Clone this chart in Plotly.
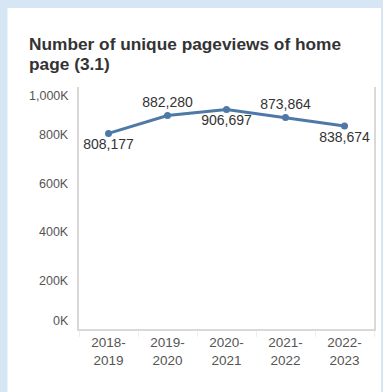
import plotly.graph_objects as go

# Unique pageviews of the home page per academic year
years = ["2018-2019", "2019-2020", "2020-2021", "2021-2022", "2022-2023"]
pageviews = [808177, 882280, 906697, 873864, 838674]
label_positions = ["bottom center", "top center", "bottom center", "top center", "bottom center"]

y_tick_values = [0, 200000, 400000, 600000, 800000, 1000000]
y_tick_labels = ["0K", "200K", "400K", "600K", "800K", "1,000K"]

title_lines = ["Number of unique pageviews of home", "page (3.1)"]

FONT = "Liberation Sans, Arial, sans-serif"
LINE_BLUE = "#4e79a7"

W, H = 383, 392
ML, MR, MT, MB = 79, 7, 87, 63
pw, ph = W - ML - MR, H - MT - MB


def px_x(x):
    return (x - ML) / pw


def px_y(y):
    return (H - MB - y) / ph


fig = go.Figure()
fig.add_trace(go.Scatter(
    x=years,
    y=pageviews,
    mode="lines+markers+text",
    line=dict(color=LINE_BLUE, width=3),
    marker=dict(color=LINE_BLUE, size=7),
    text=[f"{v:,}" for v in pageviews],
    textposition=label_positions,
    textfont=dict(family=FONT, size=14, color="#333333"),
    hoverinfo="skip",
    cliponaxis=False,
))

# White card behind the chart
shapes = [dict(
    type="rect", xref="paper", yref="paper", layer="below",
    x0=px_x(7), x1=px_x(383), y0=px_y(392), y1=px_y(8),
    fillcolor="white", line=dict(width=0),
)]

# Y-axis labels; the end labels sit just inside the plot area
annotations = []
for i, (v, lab) in enumerate(zip(y_tick_values, y_tick_labels)):
    shift = 0
    if i == 0:
        shift = 8
    elif i == len(y_tick_values) - 1:
        shift = -9
    annotations.append(dict(
        x=px_x(71), xref="paper", y=v, yref="y",
        text=lab, showarrow=False, xanchor="right", yanchor="middle",
        yshift=shift,
        font=dict(family=FONT, size=12.5, color="#555555"),
    ))

# Two-line bold title
for line, top in zip(title_lines, [32, 52]):
    annotations.append(dict(
        x=px_x(27), xref="paper", y=px_y(top), yref="paper",
        text=f"<b>{line}</b>",
        showarrow=False, xanchor="left", yanchor="top", align="left",
        font=dict(family=FONT, size=17.3, color="#333333"),
    ))

fig.update_layout(
    width=W, height=H,
    margin=dict(l=ML, r=MR, t=MT, b=MB),
    paper_bgcolor="#d6e6f4",
    plot_bgcolor="rgba(0,0,0,0)",
    showlegend=False,
    shapes=shapes,
    annotations=annotations,
    xaxis=dict(
        type="category",
        range=[-0.5, len(years) - 0.5],
        tickvals=years,
        ticktext=[y.replace("-", "-<br>") for y in years],
        tickfont=dict(family=FONT, size=13.5, color="#555555"),
        showgrid=False, zeroline=False,
        showline=True, linecolor="#d9d9d9", linewidth=1.5,
        ticks="outside", tickson="boundaries", ticklen=6, tickcolor="#eeeeee",
        fixedrange=True,
    ),
    yaxis=dict(
        range=[0, 1000000],
        tickvals=y_tick_values,
        showticklabels=False,
        showgrid=False, zeroline=False,
        showline=True, mirror=True, linecolor="#d9d9d9", linewidth=1.5,
        ticks="",
        fixedrange=True,
    ),
)

fig.write_html("out.html")
